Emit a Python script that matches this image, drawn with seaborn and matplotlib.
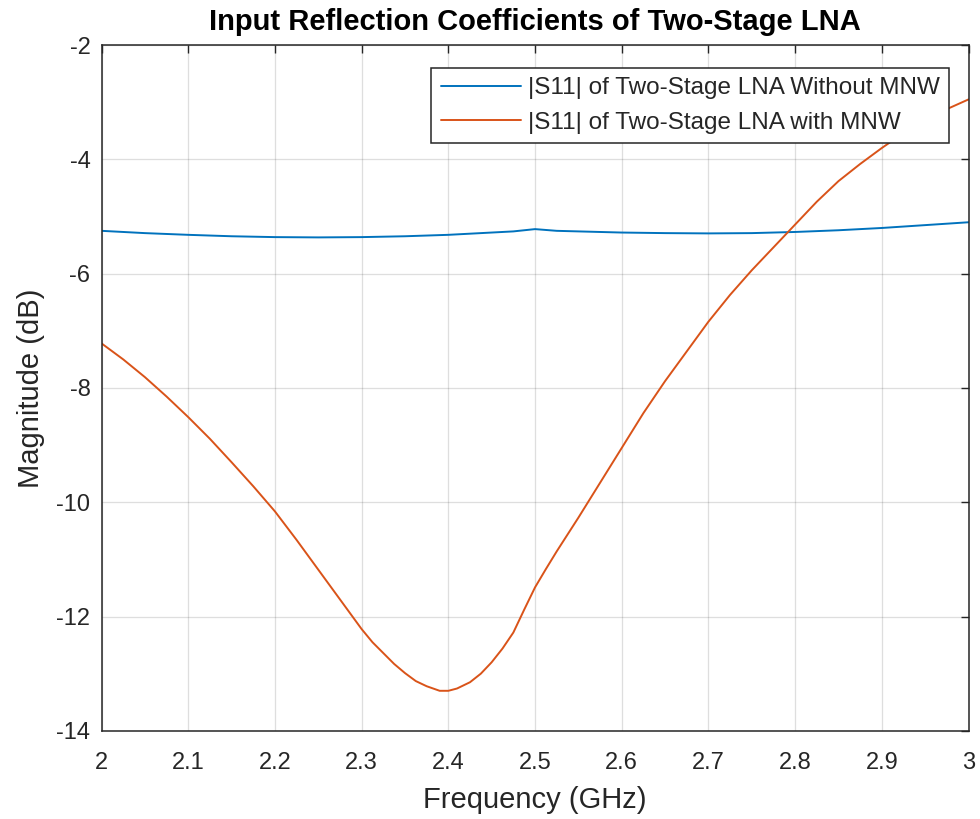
import numpy as np
import pandas as pd
import matplotlib
matplotlib.use("Agg")
import matplotlib.pyplot as plt
import seaborn as sns

freq_orange = [2.000, 2.025, 2.050, 2.075, 2.100, 2.125, 2.150, 2.175, 2.200, 2.225,
               2.250, 2.275, 2.300, 2.3125, 2.325, 2.3375, 2.350, 2.3625, 2.375, 2.390,
               2.400, 2.410, 2.425, 2.4375, 2.450, 2.4625, 2.475, 2.4875, 2.500, 2.5125,
               2.525, 2.550, 2.575, 2.600, 2.625, 2.650, 2.675, 2.700, 2.725, 2.750,
               2.775, 2.800, 2.825, 2.850, 2.875, 2.900, 2.925, 2.950, 2.975, 3.000]
s11_with = [-7.22, -7.50, -7.81, -8.15, -8.51, -8.89, -9.30, -9.72, -10.16, -10.66,
            -11.18, -11.70, -12.22, -12.45, -12.64, -12.83, -12.99, -13.13, -13.22, -13.30,
            -13.30, -13.26, -13.15, -13.00, -12.80, -12.56, -12.28, -11.88, -11.49, -11.17,
            -10.86, -10.27, -9.66, -9.05, -8.44, -7.88, -7.36, -6.84, -6.37, -5.94,
            -5.54, -5.14, -4.74, -4.38, -4.08, -3.80, -3.54, -3.31, -3.12, -2.95]

freq_blue = [2.00, 2.05, 2.10, 2.15, 2.20, 2.25, 2.30, 2.35, 2.40, 2.45, 2.475, 2.50,
             2.525, 2.55, 2.60, 2.65, 2.70, 2.75, 2.80, 2.85, 2.90, 2.95, 3.00]
s11_without = [-5.25, -5.29, -5.32, -5.345, -5.36, -5.365, -5.36, -5.345, -5.32, -5.28, -5.26, -5.22,
               -5.25, -5.26, -5.28, -5.29, -5.295, -5.29, -5.27, -5.24, -5.20, -5.15, -5.10]

label_without = "|S11| of Two-Stage LNA Without MNW"
label_with = "|S11| of Two-Stage LNA with MNW"

x_ticks = [2, 2.1, 2.2, 2.3, 2.4, 2.5, 2.6, 2.7, 2.8, 2.9, 3]
x_ticklabels = ["2", "2.1", "2.2", "2.3", "2.4", "2.5", "2.6", "2.7", "2.8", "2.9", "3"]
y_ticks = [-14, -12, -10, -8, -6, -4, -2]
y_ticklabels = ["-14", "-12", "-10", "-8", "-6", "-4", "-2"]

df = pd.concat([
    pd.DataFrame({"Frequency": freq_blue, "S11": s11_without, "Series": label_without}),
    pd.DataFrame({"Frequency": freq_orange, "S11": s11_with, "Series": label_with}),
], ignore_index=True)

sns.set_theme(style="white")
plt.rcParams["font.family"] = ["Liberation Sans", "DejaVu Sans"]
plt.rcParams["axes.unicode_minus"] = False

AX_COL = "#262626"

fig = plt.figure(figsize=(9.8, 8.19), dpi=100)
ax = fig.add_axes([0.1036, 0.1077, 0.8847, 0.8372])

palette = {label_without: "#0072BD", label_with: "#D95319"}
sns.lineplot(data=df, x="Frequency", y="S11", hue="Series", palette=palette,
             linewidth=1.4, ax=ax, sort=True, estimator=None)

ax.set_xlim(2, 3)
ax.set_ylim(-14, -2)
ax.set_xticks(x_ticks)
ax.set_xticklabels(x_ticklabels)
ax.set_yticks(y_ticks)
ax.set_yticklabels(y_ticklabels)
ax.grid(True, color=AX_COL, alpha=0.15, linewidth=0.9)
for sp in ax.spines.values():
    sp.set_color(AX_COL)
    sp.set_linewidth(1.1)
    sp.set_visible(True)
ax.tick_params(direction="in", length=6, width=1.0, colors=AX_COL,
               labelsize=17, top=True, right=True)
ax.tick_params(axis="x", pad=15)
ax.tick_params(axis="y", pad=8)
for lbl in ax.get_xticklabels() + ax.get_yticklabels():
    lbl.set_color(AX_COL)

ax.set_xlabel("Frequency (GHz)", fontsize=21, color=AX_COL, labelpad=9)
ax.set_ylabel("Magnitude (dB)", fontsize=21, color=AX_COL, labelpad=8)
ax.set_title("Input Reflection Coefficients of Two-Stage LNA", fontsize=21,
             fontweight="bold", color="black", pad=11)

leg = ax.legend(loc="upper right", bbox_to_anchor=(0.978, 0.967), fontsize=17.5,
                frameon=True, fancybox=False, edgecolor=AX_COL, framealpha=1,
                handlelength=3.3, handletextpad=0.27, borderpad=0.4, labelspacing=0.5,
                borderaxespad=0)
leg.get_frame().set_linewidth(1.1)
for t in leg.get_texts():
    t.set_color(AX_COL)

fig.savefig("out.png", dpi=100)
